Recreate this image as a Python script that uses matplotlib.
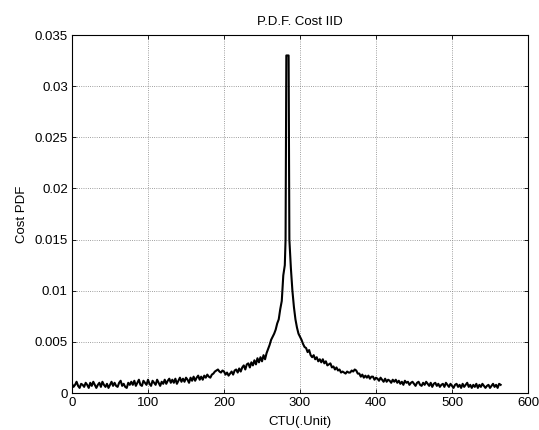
import matplotlib
matplotlib.use("Agg")
import matplotlib.pyplot as plt
from matplotlib.ticker import FormatStrFormatter, MultipleLocator

# values, PDF in units of 1e-4
left_x = list(range(0, 280, 2))
left_pdf = [
    9, 6, 8, 11, 7, 5, 9, 8, 6, 10,
    8, 5, 10, 7, 11, 8, 5, 8, 10, 6,
    11, 8, 6, 9, 5, 8, 11, 7, 10, 7,
    6, 10, 12, 7, 9, 6, 5, 10, 8, 11,
    8, 12, 7, 10, 13, 8, 7, 12, 10, 8,
    13, 9, 7, 12, 10, 8, 13, 10, 7, 11,
    9, 13, 9, 12, 14, 10, 13, 10, 14, 9,
    12, 15, 11, 14, 11, 15, 13, 10, 15, 12,
    16, 12, 15, 17, 13, 16, 13, 17, 15, 18,
    16, 15, 18, 19, 21, 22, 23, 21, 20, 22,
    21, 18, 20, 17, 19, 21, 18, 22, 23, 20,
    24, 21, 25, 27, 23, 28, 29, 25, 30, 27,
    32, 28, 34, 30, 35, 31, 37, 33, 39, 43,
    47, 52, 55, 58, 62, 68, 72, 82, 90, 115,
]
peak_x = [280, 281, 282, 285, 286]
peak_pdf = [125, 150, 330, 330, 150]
right_x = list(range(288, 566, 2))
right_pdf = [
    122, 100, 84, 72, 64, 58, 55, 52, 48, 45,
    44, 40, 42, 37, 35, 37, 33, 35, 31, 33,
    30, 33, 29, 31, 27, 28, 29, 25, 26, 23,
    25, 22, 23, 20, 21, 20, 19, 21, 20, 20,
    22, 21, 23, 22, 19, 19, 16, 18, 15, 17,
    15, 17, 14, 16, 16, 13, 15, 14, 12, 15,
    13, 11, 14, 11, 13, 12, 10, 13, 11, 13,
    10, 12, 9, 11, 8, 12, 10, 11, 8, 10,
    11, 9, 7, 10, 11, 8, 7, 10, 8, 11,
    9, 7, 10, 6, 9, 10, 7, 9, 6, 8,
    9, 6, 10, 8, 6, 9, 7, 5, 8, 9,
    6, 8, 5, 9, 6, 8, 10, 6, 8, 5,
    8, 6, 9, 5, 8, 6, 9, 7, 5, 7,
    8, 5, 7, 9, 6, 8, 5, 9, 8,
]

ctu = left_x + peak_x + right_x
pdf = [v * 1e-4 for v in left_pdf + peak_pdf + right_pdf]

plt.rcParams['font.family'] = ['Liberation Sans', 'DejaVu Sans']
plt.rcParams['font.size'] = 9.5

fig = plt.figure(figsize=(5.39, 4.30), dpi=100)
ax = fig.add_axes([0.1336, 0.086, 0.846, 0.8326])
ax.plot(ctu, pdf, color='black', linewidth=1.5)

ax.set_xlim(0, 600)
ax.set_ylim(0, 0.035)
ax.xaxis.set_major_locator(MultipleLocator(100))
ax.yaxis.set_major_locator(MultipleLocator(0.005))
ax.yaxis.set_major_formatter(FormatStrFormatter('%g'))
ax.grid(True, color='#808080', linestyle=':', linewidth=0.6)
ax.tick_params(direction='in', length=3, top=True, right=True, width=0.6, pad=3)
for s in ax.spines.values():
    s.set_linewidth(0.8)

ax.set_title('P.D.F. Cost IID', fontsize=9.5, pad=7)
ax.set_xlabel('CTU(.Unit)', labelpad=5)
ax.set_ylabel('Cost PDF', labelpad=5)

fig.savefig('out.png', dpi=100)
